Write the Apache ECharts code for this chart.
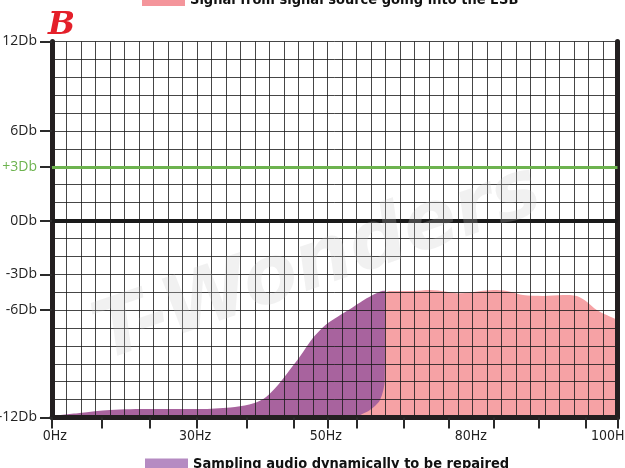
<!DOCTYPE html>
<html>
<head>
<meta charset="utf-8">
<script src="https://cdn.jsdelivr.net/npm/echarts@6/dist/echarts.min.js"></script>
<style>
html,body{margin:0;padding:0;background:#fff;}
#chart{width:625px;height:468px;}
</style>
</head>
<body>
<div id="chart"></div>
<script>
// ---- Data (axis units: x = grid columns, y = grid rows) ----
const xGridMax = 39;
const yGridMax = 21;
const yTickPos = [21, 16, 14, 11, 8, 6, 0];
const yTickLabels = ['12Db', '6Db', '+3Db', '0Db', '-3Db', '-6Db', '-12Db'];
const xTickPos = [0, 3.43, 6.76, 9.98, 13.43, 16.64, 19.01, 21.01, 24.23, 27.33, 30.48, 33.59, 36.81, 39];
const xLabelPos = [0.2, 9.86, 18.88, 28.88, 38.55];
const xLabels = ['0Hz', '30Hz', '50Hz', '80Hz', '100Hz'];
const zeroDbLevel = 11;
const plus3DbLevel = 14;

const pinkName = 'Signal from signal source going into the ESB';
const pinkX = [20.6, 22.3, 22.95, 23.3, 24.9, 26.07, 27.22, 28.14, 29.72, 30.67, 31.59, 32.48, 33.86, 35.24, 36.19, 36.88, 37.57, 38.26, 39];
const pinkY = [0, 2.0, 6.9, 7.06, 7.07, 7.12, 7.03, 6.94, 7.08, 7.12, 7.03, 6.84, 6.79, 6.84, 6.79, 6.47, 6.0, 5.72, 5.45];

const purpleName = 'Sampling audio dynamically to be repaired';
const purpleX = [0, 1.9, 4.0, 6.8, 10.2, 12.3, 13.6, 14.6, 15.4, 16.2, 17.1, 18.0, 18.9, 19.7, 20.8, 21.7, 22.6, 22.97, 22.97, 22.95, 22.62, 21.93, 21.36, 20.9];
const purpleY = [0.08, 0.25, 0.42, 0.47, 0.47, 0.56, 0.72, 1.05, 1.65, 2.45, 3.4, 4.45, 5.2, 5.63, 6.19, 6.66, 7.03, 7.08, 4.5, 2.09, 0.98, 0.42, 0.18, 0];

const zip = (xs, ys) => xs.map((x, i) => [x, ys[i]]);

function lookup(posArr, labArr, v) {
  for (let i = 0; i < posArr.length; i++) {
    if (Math.abs(posArr[i] - v) < 1e-6) return labArr[i];
  }
  return '';
}

const chart = echarts.init(document.getElementById('chart'), null, {renderer: 'canvas'});
const gridColor = 'rgba(24,24,24,0.8)';
const axisDark = '#231f20';
const legendFont = '"DejaVu Sans Condensed", "DejaVu Sans", sans-serif';

chart.setOption({
  animation: false,
  backgroundColor: '#ffffff',
  grid: {left: 52, right: 7.5, top: 41.5, bottom: 50.5, containLabel: false, outerBoundsMode: 'none'},
  legend: [
    {
      data: [pinkName], left: 142, top: -7, padding: 0, itemWidth: 43, itemHeight: 11, icon: 'rect',
      selectedMode: false,
      textStyle: {fontFamily: legendFont, fontWeight: 'bold', fontSize: 14.5, color: '#111'}
    },
    {
      data: [purpleName], left: 145, top: 457, padding: 0, itemWidth: 43, itemHeight: 12, icon: 'rect',
      selectedMode: false,
      textStyle: {fontFamily: legendFont, fontWeight: 'bold', fontSize: 14.5, color: '#111'}
    }
  ],
  xAxis: [
    {
      type: 'value', min: 0, max: xGridMax, interval: 1, z: 3,
      axisLine: {show: false}, axisTick: {show: false}, axisLabel: {show: false},
      splitLine: {show: true, lineStyle: {color: gridColor, width: 1}}
    },
    {
      type: 'value', min: 0, max: xGridMax, position: 'bottom', z: 4,
      axisLine: {show: true, onZero: false, lineStyle: {color: axisDark, width: 5}},
      axisTick: {show: true, customValues: xTickPos, length: 11, lineStyle: {color: '#2a2a2a', width: 2}},
      axisLabel: {
        show: true, customValues: xLabelPos, margin: 12, hideOverlap: false,
        formatter: v => lookup(xLabelPos, xLabels, v),
        fontFamily: '"DejaVu Sans Condensed", "DejaVu Sans", sans-serif', fontSize: 14, color: '#222'
      },
      splitLine: {show: false}
    }
  ],
  yAxis: [
    {
      type: 'value', min: 0, max: yGridMax, interval: 1, z: 3, position: 'left',
      axisLine: {show: false}, axisTick: {show: false}, axisLabel: {show: false},
      splitLine: {show: true, lineStyle: {color: gridColor, width: 1}}
    },
    {
      type: 'value', min: 0, max: yGridMax, position: 'left', offset: 0, z: 4,
      axisLine: {show: true, onZero: false, lineStyle: {color: axisDark, width: 5}},
      axisTick: {show: true, customValues: yTickPos, length: 12, lineStyle: {color: '#2a2a2a', width: 2}},
      axisLabel: {
        show: true, customValues: yTickPos, margin: 15,
        formatter: v => {
          const t = lookup(yTickPos, yTickLabels, v);
          return v === plus3DbLevel ? '{g|' + t + '}' : t;
        },
        rich: {g: {color: '#6db34f', fontFamily: '"Open Sans", sans-serif', fontSize: 14}},
        fontFamily: '"Open Sans", sans-serif', fontSize: 14, color: '#222'
      },
      splitLine: {show: false}
    },
    {
      type: 'value', min: 0, max: yGridMax, position: 'right', offset: 0, z: 4,
      axisLine: {show: true, onZero: false, lineStyle: {color: axisDark, width: 5}},
      axisTick: {show: false}, axisLabel: {show: false}, splitLine: {show: false}
    }
  ],
  series: [
    {
      name: pinkName, type: 'line', xAxisIndex: 0, yAxisIndex: 0, z: 1,
      data: zip(pinkX, pinkY), smooth: 0.3, showSymbol: false, symbol: 'none',
      lineStyle: {width: 0},
      itemStyle: {color: '#f4959b'},
      areaStyle: {color: '#f6a2a5', opacity: 1}
    },
    {
      name: purpleName, type: 'line', xAxisIndex: 0, yAxisIndex: 0, z: 2,
      data: zip(purpleX, purpleY), smooth: 0.3, showSymbol: false, symbol: 'none',
      lineStyle: {width: 0},
      itemStyle: {color: '#b58bc2'},
      areaStyle: {color: '#a8639e', opacity: 1}
    },
    {
      name: 'levels', type: 'line', xAxisIndex: 0, yAxisIndex: 0, z: 5,
      data: [], symbol: 'none',
      markLine: {
        silent: true, symbol: 'none', label: {show: false}, animation: false,
        data: [
          {yAxis: zeroDbLevel, lineStyle: {color: '#1a1a1a', width: 4, type: 'solid'}},
          {yAxis: plus3DbLevel, lineStyle: {color: '#6db34f', width: 3, type: 'solid'}}
        ]
      }
    }
  ],
  graphic: [
    {
      type: 'text', x: 318, y: 265, rotation: 0.33, z: 10, silent: true,
      style: {
        text: 'T-Wonders', align: 'center', verticalAlign: 'middle',
        font: 'italic bold 80px "DejaVu Sans", sans-serif',
        fill: 'rgba(200,200,200,0.25)'
      }
    },
    {
      type: 'text', left: 48, top: 10, z: 10,
      style: {
        text: 'B', font: 'italic bold 32px "DejaVu Serif", serif',
        fill: '#e4202a'
      }
    }
  ]
});
</script>
</body>
</html>
